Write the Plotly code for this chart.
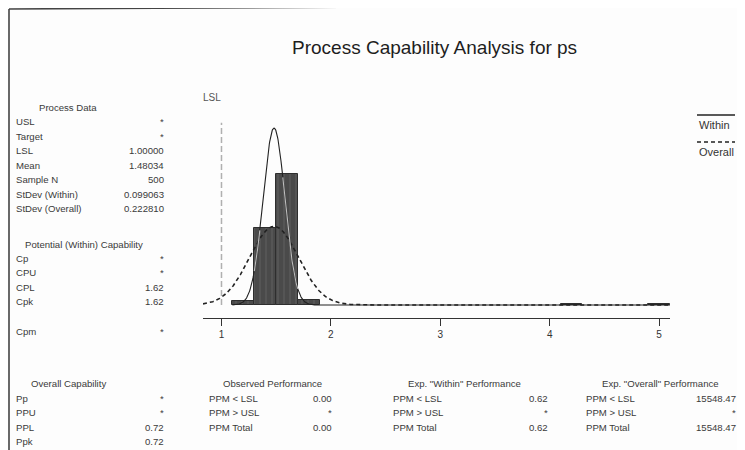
import numpy as np
import plotly.graph_objects as go

W, H = 745, 450          # window size
OFF = 8                  # default page body margin
FW, FH = W - OFF, H - OFF
FONT = "Liberation Sans, Arial, sans-serif"
TS = 9.6                 # table font size

# ---------------- data ----------------
LSL = 1.0
MEAN = 1.48034
N = 500
SD_WITHIN = 0.099063
SD_OVERALL = 0.222810
BIN_WIDTH = 0.2

bin_centers = [1.2, 1.4, 1.6, 1.8, 4.2, 5.0]
bin_counts = [8, 176, 298, 12, 3, 3]

x_ticks = [1, 2, 3, 4, 5]
x_range = [0.831, 5.10]
y_range = [-29.6, 421]

title_text = "Process Capability Analysis for ps"

process_header = "Process Data"
process_labels = ["USL", "Target", "LSL", "Mean", "Sample N", "StDev (Within)", "StDev (Overall)"]
process_values = ["*", "*", "1.00000", "1.48034", "500", "0.099063", "0.222810"]

within_header = "Potential (Within) Capability"
within_cap_labels = ["Cp", "CPU", "CPL", "Cpk"]
within_cap_values = ["*", "*", "1.62", "1.62"]
cpm_label, cpm_value = "Cpm", "*"

overall_header = "Overall Capability"
overall_cap_labels = ["Pp", "PPU", "PPL", "Ppk"]
overall_cap_values = ["*", "*", "0.72", "0.72"]

ppm_labels = ["PPM < LSL", "PPM > USL", "PPM Total"]
observed_header = "Observed Performance"
observed_values = ["0.00", "*", "0.00"]
exp_within_header = 'Exp. "Within" Performance'
exp_within_values = ["0.62", "*", "0.62"]
exp_overall_header = 'Exp. "Overall" Performance'
exp_overall_values = ["15548.47", "*", "15548.47"]

legend_names = ["Within", "Overall"]


# ---------------- helpers ----------------
def esc(s):
    return s.replace("&", "&amp;").replace("<", "&lt;").replace(">", "&gt;")


def px(x, y):
    return (x - OFF) / FW, 1 - (y - OFF) / FH


def ann(text, x, y, anchor="left", size=TS, color="#3a3a3a"):
    xx, yy = px(x, y)
    return dict(text=esc(text), x=xx, y=yy, xref="paper", yref="paper",
                xanchor=anchor, yanchor="middle", showarrow=False,
                font=dict(size=size, color=color, family=FONT))


def normal_counts(x, mu, sd):
    return N * BIN_WIDTH * np.exp(-0.5 * ((x - mu) / sd) ** 2) / (sd * np.sqrt(2 * np.pi))


def bar_height_at(x):
    h = np.zeros_like(x)
    for c, n in zip(bin_centers, bin_counts):
        h[(x >= c - BIN_WIDTH / 2) & (x < c + BIN_WIDTH / 2)] = n
    return h


# ---------------- figure ----------------
fig = go.Figure()

xs = np.linspace(x_range[0], x_range[1], 1200)
# overall curve (drawn behind the bars)
fig.add_trace(go.Scatter(x=xs, y=normal_counts(xs, MEAN, SD_OVERALL), mode="lines",
                         line=dict(color="#222222", width=1.6, dash="4px,3px"),
                         showlegend=False, hoverinfo="skip"))
# LSL reference line
fig.add_trace(go.Scatter(x=[LSL, LSL], y=[0, y_range[1] * 0.985], mode="lines",
                         line=dict(color="#b0b0b0", width=1.5, dash="6px,3px"),
                         showlegend=False, hoverinfo="skip"))

fig.add_trace(go.Bar(
    x=bin_centers, y=bin_counts, width=BIN_WIDTH,
    marker=dict(color="#505050", line=dict(color="#2e2e2e", width=1),
                pattern=dict(shape="|", fgcolor="#666666", bgcolor="#4a4a4a", size=6, solidity=0.25)),
    showlegend=False, hoverinfo="skip"))

# within curve on top; lighter where it passes over the bars
xs_w = np.linspace(1.1, x_range[1], 1200)
yw = normal_counts(xs_w, MEAN, SD_WITHIN)
fig.add_trace(go.Scatter(x=xs_w, y=yw, mode="lines",
                         line=dict(color="#222222", width=1.1),
                         showlegend=False, hoverinfo="skip"))
inside = np.where((yw < bar_height_at(xs_w) - 2) & (bar_height_at(xs_w) > 50), yw, np.nan)
fig.add_trace(go.Scatter(x=xs_w, y=inside, mode="lines",
                         line=dict(color="#bdbdbd", width=1.1),
                         showlegend=False, hoverinfo="skip", connectgaps=False))

annotations = []
annotations.append(ann(title_text, 434, 47, "center", 19, "#1e1e1e"))
annotations.append(dict(text="LSL", x=LSL, y=1 - (98 - OFF) / FH, xref="x", yref="paper",
                        xanchor="center", yanchor="middle", showarrow=False, xshift=-9,
                        font=dict(size=10, color="#555555", family=FONT)))

annotations.append(ann(process_header, 68, 108, "center"))
for i, (lab, val) in enumerate(zip(process_labels, process_values)):
    y = 122 + i * 14.4
    annotations.append(ann(lab, 14, y))
    annotations.append(ann(val, 166, y, "right"))

annotations.append(ann(within_header, 84, 244, "center"))
for i, (lab, val) in enumerate(zip(within_cap_labels, within_cap_values)):
    y = 258 + i * 14.5
    annotations.append(ann(lab, 14, y))
    annotations.append(ann(val, 166, y, "right"))
annotations.append(ann(cpm_label, 14, 331))
annotations.append(ann(cpm_value, 166, 331, "right"))

annotations.append(ann(overall_header, 68, 383, "center"))
for i, (lab, val) in enumerate(zip(overall_cap_labels, overall_cap_values)):
    y = 398 + i * 14.5
    annotations.append(ann(lab, 14, y))
    annotations.append(ann(val, 166, y, "right"))

blocks = [
    (observed_header, 272, 207, 334, observed_values),
    (exp_within_header, 465, 391, 550, exp_within_values),
    (exp_overall_header, 660, 584, 738, exp_overall_values),
]
for header, hx, lx, vx, vals in blocks:
    annotations.append(ann(header, hx, 383, "center"))
    for i, (lab, val) in enumerate(zip(ppm_labels, vals)):
        y = 398 + i * 14.5
        annotations.append(ann(lab, lx, y))
        annotations.append(ann(val, vx, y, "right"))

annotations.append(ann(legend_names[0], 697, 125, "left", 11, "#333333"))
annotations.append(ann(legend_names[1], 697, 152, "left", 11, "#333333"))

shapes = []


def pline(x0, y0, x1, y1, color="#333333", width=1.5, dash="solid"):
    a0, b0 = px(x0, y0)
    a1, b1 = px(x1, y1)
    return dict(type="line", xref="paper", yref="paper", x0=a0, y0=b0, x1=a1, y1=b1,
                line=dict(color=color, width=width, dash=dash))


shapes.append(pline(697, 115, 735, 115, "#222222", 1.3))
shapes.append(pline(697, 142, 735, 142, "#222222", 1.5, "4px,3px"))
shapes.append(pline(9, 9, 745, 5, "#444444", 1.6))
shapes.append(pline(9, 9, 9, 450, "#444444", 1.6))

fig.update_layout(
    width=FW, height=FH, autosize=False,
    margin=dict(l=0, r=0, t=0, b=0),
    paper_bgcolor="#fdfdfd", plot_bgcolor="rgba(0,0,0,0)",
    bargap=0,
    showlegend=False,
    annotations=annotations,
    shapes=shapes,
    xaxis=dict(domain=[(203 - OFF) / FW, (670 - OFF) / FW], range=x_range, tickvals=x_ticks,
               ticktext=[str(t) for t in x_ticks], showgrid=False, zeroline=False,
               showline=True, linecolor="#333333", linewidth=1.3,
               ticks="outside", ticklen=7, tickcolor="#333333", tickwidth=1.2,
               tickfont=dict(size=10, color="#333333", family=FONT)),
    yaxis=dict(domain=[1 - (318 - OFF) / FH, 1 - (120 - OFF) / FH], range=y_range, visible=False,
               showgrid=False, zeroline=False),
)

fig.write_html("out.html")
